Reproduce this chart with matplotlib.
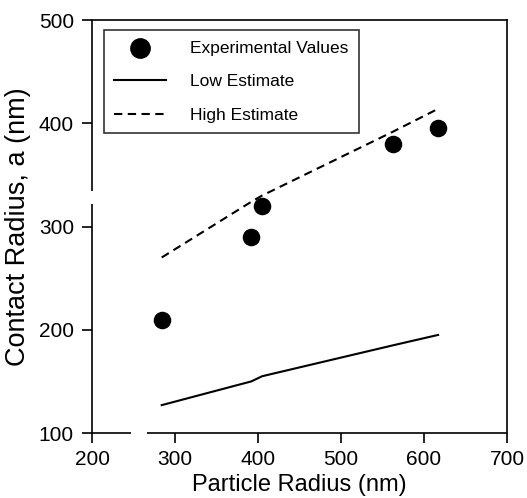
import matplotlib.pyplot as plt
import numpy as np

plt.rcParams['font.family'] = ['Liberation Sans', 'DejaVu Sans']

# particle radius (nm)
radius = [284, 392, 405, 563, 617]
# measured contact radius (nm)
contact_exp = [209, 290, 320, 380, 395]
# model estimates at the same radii
low_est = [127, 150, 155, 185, 195]
high_est = [270, 324, 330, 392, 414]

x_ticks = [200, 300, 400, 500, 600, 700]
y_ticks = [100, 200, 300, 400, 500]
x_break = (247, 266)
y_break = (322, 334)

fig = plt.figure(figsize=(5.27, 4.98), dpi=100)
ax = fig.add_axes([0.1746, 0.1305, 0.7874, 0.8293])

ax.scatter(radius, contact_exp, s=135, c='black', zorder=3, label='Experimental Values')
ax.plot(radius, low_est, color='black', lw=1.5, label='Low Estimate')
ax.plot(radius, high_est, color='black', lw=1.5, dashes=(4, 2.6), label='High Estimate')

ax.set_xlim(200, 700)
ax.set_ylim(100, 500)
ax.set_xticks(x_ticks)
ax.set_yticks(y_ticks)
ax.tick_params(direction='out', length=7, width=1.2, labelsize=15, pad=6)
ax.tick_params(axis='x', pad=5)

# broken left / bottom axis lines
ax.spines['left'].set_visible(False)
ax.spines['bottom'].set_visible(False)
for s in ['top', 'right']:
    ax.spines[s].set_linewidth(1.2)
ax.vlines(200, 100, y_break[0], color='black', lw=1.2, clip_on=False)
ax.vlines(200, y_break[1], 500, color='black', lw=1.2, clip_on=False)
ax.hlines(100, 200, x_break[0], color='black', lw=1.2, clip_on=False)
ax.hlines(100, x_break[1], 700, color='black', lw=1.2, clip_on=False)

ax.set_xlabel('Particle Radius (nm)', fontsize=17, labelpad=4)
ax.set_ylabel('Contact Radius, a (nm)', fontsize=19.5, labelpad=6)

leg = ax.legend(loc='upper left', bbox_to_anchor=(0.028, 0.975), fontsize=12.5,
                frameon=True, fancybox=False, edgecolor='black', markerscale=1.2,
                handlelength=3.0, handletextpad=1.4, borderpad=0.6,
                labelspacing=1.05, borderaxespad=0)
leg.get_frame().set_linewidth(1.2)

fig.savefig('out.png', dpi=100)
